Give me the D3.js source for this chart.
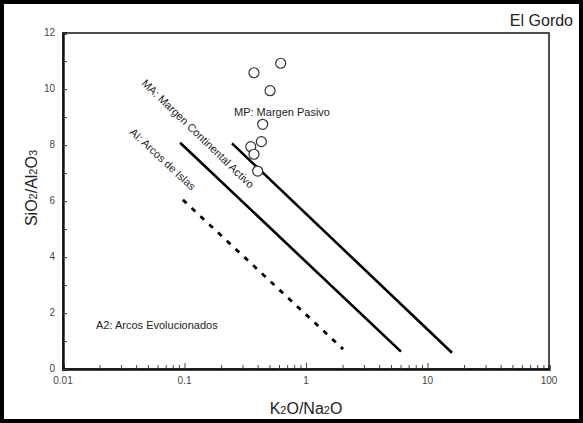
<!DOCTYPE html>
<html>
<head>
<meta charset="utf-8">
<script src="https://cdn.jsdelivr.net/npm/d3@7"></script>
<style>
  html, body { margin: 0; padding: 0; background: #fff; }
  svg { display: block; }
  text { font-family: Arial, "Liberation Sans", sans-serif; }
</style>
</head>
<body>
<svg id="chart" width="583" height="423"></svg>
<script>
// Sample ratios (K2O/Na2O vs SiO2/Al2O3), El Gordo
const k2oNa2o = [0.373, 0.619, 0.506, 0.440, 0.429, 0.351, 0.373, 0.400];
const sio2Al2o3 = [10.58, 10.92, 9.94, 8.74, 8.12, 7.94, 7.67, 7.07];

// Field boundaries: [x0, y0, x1, y1]
const boundaryMA = [0.246, 8.06, 15.9, 0.58];
const boundaryAI = [0.092, 8.08, 6.05, 0.62];
const boundaryA2 = [0.097, 6.04, 2.02, 0.71];

const xTicks = [0.01, 0.1, 1, 10, 100];
const xTickLabels = ["0.01", "0.1", "1", "10", "100"];
const yTicks = [0, 2, 4, 6, 8, 10, 12];

const svg = d3.select("#chart");
const plotLeft = 63, plotRight = 549, plotTop = 33, plotBottom = 369;

const x = d3.scaleLog().domain([0.01, 100]).range([plotLeft, plotRight]);
const y = d3.scaleLinear().domain([0, 12]).range([plotBottom, plotTop]);

// outer frame
svg.append("rect").attr("x", 2).attr("y", 2).attr("width", 579).attr("height", 419)
  .attr("fill", "none").attr("stroke", "#000").attr("stroke-width", 4);

// plot box
svg.append("rect").attr("x", plotLeft).attr("y", plotTop)
  .attr("width", plotRight - plotLeft).attr("height", plotBottom - plotTop)
  .attr("fill", "none").attr("stroke", "#222").attr("stroke-width", 1.6);

// x axis: minor ticks inside, decade labels below
const minorX = [];
[0.01, 0.1, 1, 10].forEach(d => {
  for (let m = 1; m <= 9; m++) minorX.push(+(d * m).toPrecision(6));
});
minorX.push(100);
const isDecade = d => Math.abs(Math.log10(d) - Math.round(Math.log10(d))) < 1e-9;
const xAxis = d3.axisTop(x).tickValues(minorX).tickSize(4).tickFormat("");
svg.append("g").attr("transform", `translate(0,${plotBottom})`).call(xAxis)
  .call(g => g.select(".domain").attr("stroke", "#111").attr("stroke-width", 2.4))
  .call(g => g.selectAll(".tick line").attr("stroke", "#444").attr("stroke-width", 1)
    .attr("y2", d => isDecade(d) ? -6 : -4));

svg.append("g").selectAll("text").data(xTicks).join("text")
  .attr("x", d => x(d)).attr("y", plotBottom + 15)
  .attr("text-anchor", "middle").attr("font-size", 10).attr("fill", "#444")
  .text((d, i) => xTickLabels[i]);

// y axis: integer ticks inside, even labels on the left
const yAxis = d3.axisRight(y).tickValues(d3.range(0, 13)).tickSize(4).tickFormat("");
svg.append("g").attr("transform", `translate(${plotLeft},0)`).call(yAxis)
  .call(g => g.select(".domain").attr("stroke", "#111").attr("stroke-width", 2.4))
  .call(g => g.selectAll(".tick line").attr("stroke", "#444").attr("stroke-width", 1));

svg.append("g").selectAll("text").data(yTicks).join("text")
  .attr("x", plotLeft - 8).attr("y", d => y(d) + 3)
  .attr("text-anchor", "end").attr("font-size", 10).attr("fill", "#444")
  .text(d => d);

// boundary lines
const segment = b => [[x(b[0]), y(b[1])], [x(b[2]), y(b[3])]];
const line = d3.line();
svg.append("path").attr("d", line(segment(boundaryMA)))
  .attr("stroke", "#000").attr("stroke-width", 2.6).attr("fill", "none");
svg.append("path").attr("d", line(segment(boundaryAI)))
  .attr("stroke", "#000").attr("stroke-width", 2.6).attr("fill", "none");
svg.append("path").attr("d", line(segment(boundaryA2)))
  .attr("stroke", "#000").attr("stroke-width", 2.8).attr("fill", "none")
  .attr("stroke-dasharray", "5,7");

// field labels
function rotatedLabel(px, py, angle, txt) {
  svg.append("text").attr("transform", `translate(${px},${py}) rotate(${angle})`)
    .attr("font-size", 11).attr("fill", "#222").text(txt);
}
rotatedLabel(141, 84, 44, "MA: Margen Continental Activo");
rotatedLabel(129, 133, 43, "AI: Arcos de Islas");
svg.append("text").attr("x", 234).attr("y", 116).attr("font-size", 11).attr("fill", "#222")
  .text("MP: Margen Pasivo");
svg.append("text").attr("x", 96).attr("y", 329).attr("font-size", 11).attr("fill", "#222")
  .text("A2: Arcos Evolucionados");

// samples
svg.append("g").selectAll("circle").data(k2oNa2o).join("circle")
  .attr("cx", d => x(d)).attr("cy", (d, i) => y(sio2Al2o3[i])).attr("r", 5)
  .attr("fill", "#fff").attr("stroke", "#333").attr("stroke-width", 1.2);

// titles
svg.append("text").attr("x", 573).attr("y", 26).attr("text-anchor", "end")
  .attr("font-size", 16).attr("fill", "#222").text("El Gordo");

const xl = svg.append("text").attr("x", 306).attr("y", 414).attr("text-anchor", "middle")
  .attr("font-size", 16).attr("fill", "#222");
xl.append("tspan").text("K");
xl.append("tspan").attr("font-size", 11).text("2");
xl.append("tspan").text("O/Na");
xl.append("tspan").attr("font-size", 11).text("2");
xl.append("tspan").text("O");

const yl = svg.append("text").attr("transform", `translate(37,188) rotate(-90)`)
  .attr("text-anchor", "middle").attr("font-size", 16).attr("fill", "#222");
yl.append("tspan").text("SiO");
yl.append("tspan").attr("font-size", 11).text("2");
yl.append("tspan").text("/Al");
yl.append("tspan").attr("font-size", 11).text("2");
yl.append("tspan").text("O");
yl.append("tspan").attr("font-size", 11).text("3");
</script>
</body>
</html>
